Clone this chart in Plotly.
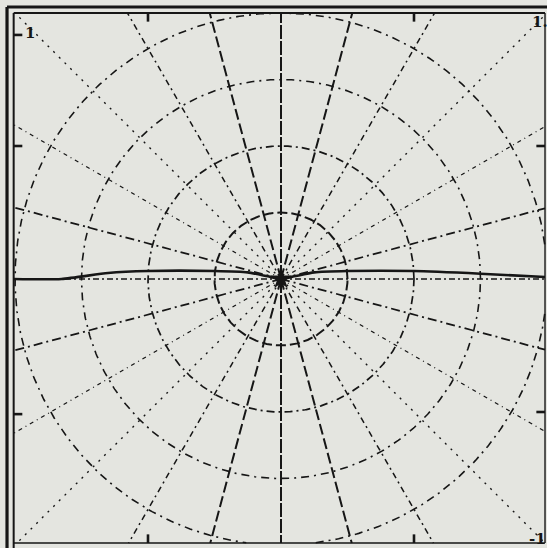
import numpy as np
import plotly.graph_objects as go

# ---- polar grid definition -------------------------------------------------
ring_radii = [0.5, 1.0, 1.5, 2.0]
ray_angles = [0, 15, 30, 45, 60, 75, 90, 105, 120, 135, 150, 165,
              180, 195, 210, 225, 240, 255, 270, 285, 300, 315, 330, 345]

# heavy streamline passing through the origin
stream_x = [-2.01, -1.65, -1.3, -1.0, -0.5, -0.25, -0.1, 0.0,
            0.1, 0.25, 0.5, 1.0, 1.5, 1.985]
stream_y = [0.0, 0.0, 0.045, 0.06, 0.06, 0.05, 0.02, 0.0,
            0.02, 0.05, 0.06, 0.06, 0.04, 0.015]

# frame tick marks (data units)
left_ticks = [1.835, 1.0, -1.016]
right_ticks = [1.0, -1.0]
top_ticks = [-1.0, 1.0]
bottom_ticks = [-1.0, 1.0]

corner_labels = ["1", "1.", "-1"]
corner_pos = [(-1.885, 1.85), (1.945, 1.93), (1.93, -1.955)]

# ---- geometry --------------------------------------------------------------
FX0, FX1 = -2.01, 1.985      # inner frame
FY0, FY1 = -1.985, 2.0
INK = "#161616"
PAPER = "#e4e5e0"

ray_style = {
    0: ("6px,3px,2px,3px", 1.4),
    15: ("9px,4px,2px,4px", 1.8),
    30: ("4px,4px,1px,4px", 1.3),
    45: ("2px,6px", 1.4),
    60: ("6px,4px,2px,4px", 1.5),
    75: ("11px,4px", 2.0),
    90: ("14px,2px", 2.0),
}


def fold(a):
    a = a % 180
    return a if a <= 90 else 180 - a


def ray_end(deg):
    t = np.radians(deg)
    c, s = np.cos(t), np.sin(t)
    hits = []
    if c > 1e-9:
        hits.append(FX1 / c)
    if c < -1e-9:
        hits.append(FX0 / c)
    if s > 1e-9:
        hits.append(FY1 / s)
    if s < -1e-9:
        hits.append(FY0 / s)
    L = min(hits)
    return L * c, L * s


fig = go.Figure()

# radial lines
for a in ray_angles:
    ex, ey = ray_end(a)
    dash, w = ray_style[fold(a)]
    fig.add_trace(go.Scatter(x=[0, ex], y=[0, ey], mode="lines",
                             line=dict(color=INK, width=w, dash=dash),
                             hoverinfo="skip", showlegend=False))

# concentric rings, clipped to the frame
ring_style = {0.5: ("10px,4px", 2.0), 1.0: ("8px,4px,2px,4px", 1.7),
              1.5: ("8px,5px,2px,5px", 1.6), 2.0: ("8px,5px,2px,5px", 1.6)}
th = np.linspace(0, 2 * np.pi, 721)
for r in ring_radii:
    cx, cy = r * np.cos(th), r * np.sin(th)
    inside = (cx >= FX0) & (cx <= FX1) & (cy >= FY0) & (cy <= FY1)
    cx = np.where(inside, cx, np.nan)
    cy = np.where(inside, cy, np.nan)
    dash, w = ring_style[r]
    fig.add_trace(go.Scatter(x=cx, y=cy, mode="lines", connectgaps=False,
                             line=dict(color=INK, width=w, dash=dash),
                             hoverinfo="skip", showlegend=False))

# heavy streamline
fig.add_trace(go.Scatter(x=stream_x, y=stream_y, mode="lines",
                         line=dict(color=INK, width=2.6, shape="spline",
                                   smoothing=0.6),
                         hoverinfo="skip", showlegend=False))

# singular point at the origin
fig.add_trace(go.Scatter(x=[0], y=[0], mode="markers",
                         marker=dict(symbol="star", size=16, color=INK),
                         hoverinfo="skip", showlegend=False))

# frame: double line on left/top, single elsewhere
frame_lines = [
    ([-2.06, -2.06], [-2.03, 2.045], 3.2),
    ([-2.06, 2.0], [2.045, 2.045], 3.2),
    ([FX0, FX0], [-2.03, FY1], 2.0),
    ([FX0, FX1], [FY1, FY1], 2.2),
    ([FX1, FX1], [FY0, FY1], 1.4),
    ([FX0, FX1], [FY0, FY0], 1.4),
]
for xs, ys, w in frame_lines:
    fig.add_trace(go.Scatter(x=xs, y=ys, mode="lines",
                             line=dict(color=INK, width=w),
                             hoverinfo="skip", showlegend=False))

# tick marks
tl = 0.065
tx, ty = [], []
for v in left_ticks:
    tx += [FX0, FX0 + tl, None]; ty += [v, v, None]
for v in right_ticks:
    tx += [FX1 - tl, FX1, None]; ty += [v, v, None]
for v in top_ticks:
    tx += [v, v, None]; ty += [FY1, FY1 - tl, None]
for v in bottom_ticks:
    tx += [v, v, None]; ty += [FY0, FY0 + tl, None]
fig.add_trace(go.Scatter(x=tx, y=ty, mode="lines",
                         line=dict(color=INK, width=2.6),
                         hoverinfo="skip", showlegend=False))

for txt, (px, py) in zip(corner_labels, corner_pos):
    fig.add_annotation(x=px, y=py, text=f"<b>{txt}</b>", showarrow=False,
                       font=dict(family="DejaVu Serif", size=15, color=INK))

UNIT = 133.0
x0 = -281 / UNIT
y1 = 279 / UNIT
fig.update_layout(
    width=547, height=548,
    margin=dict(l=0, r=0, t=0, b=0),
    paper_bgcolor=PAPER, plot_bgcolor=PAPER,
    xaxis=dict(range=[x0, x0 + 547 / UNIT], visible=False, fixedrange=True),
    yaxis=dict(range=[y1 - 548 / UNIT, y1], visible=False, fixedrange=True),
)

fig.write_html("out.html")
